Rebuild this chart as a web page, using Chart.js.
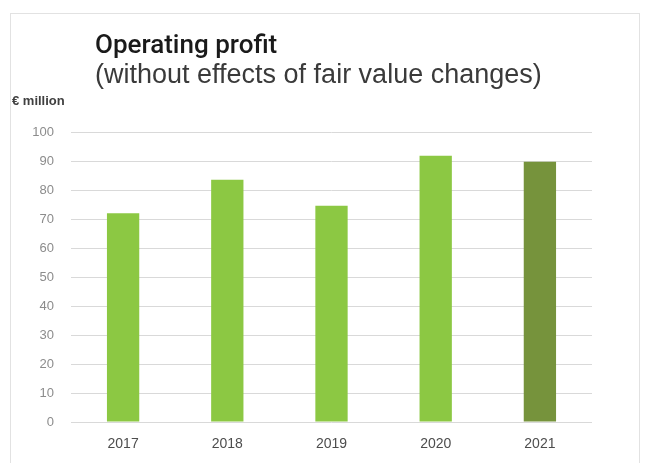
<!DOCTYPE html>
<html>
<head>
<meta charset="utf-8">
<script src="https://cdn.jsdelivr.net/npm/chart.js@4/dist/chart.umd.min.js"></script>
<style>
  html, body { margin: 0; padding: 0; background: #ffffff; }
  #wrap { position: relative; width: 646px; height: 463px; }
</style>
</head>
<body>
<div id="wrap"><canvas id="c"></canvas></div>
<script>
const years = ['2017', '2018', '2019', '2020', '2021'];
const operatingProfit = [72.0, 83.5, 74.6, 91.8, 89.7];
const barColors = ['#8cc843', '#8cc843', '#8cc843', '#8cc843', '#76933c'];
const yTicks = [0, 10, 20, 30, 40, 50, 60, 70, 80, 90, 100];
const titleText = 'Operating profit';
const subtitleText = '(without effects of fair value changes)';
const unitText = '€ million';

const decor = {
  id: 'decor',
  beforeDraw(chart) {
    const ctx = chart.ctx;
    ctx.save();
    ctx.fillStyle = '#ffffff';
    ctx.fillRect(0, 0, chart.width, chart.height);
    ctx.strokeStyle = '#e2e2e2';
    ctx.lineWidth = 1;
    ctx.strokeRect(10.5, 13.5, 629, 470);
    ctx.restore();
  },
  afterDraw(chart) {
    const ctx = chart.ctx;
    ctx.save();
    ctx.textAlign = 'left';
    ctx.textBaseline = 'alphabetic';
    ctx.fillStyle = '#1a1a1a';
    ctx.font = '500 26px Roboto, "Liberation Sans", Arial, sans-serif';
    ctx.fillText(titleText, 95, 53, 188);
    ctx.fillStyle = '#3a3a3a';
    ctx.font = '27px "Liberation Sans", Arial, sans-serif';
    ctx.fillText(subtitleText, 95, 83, 448);
    ctx.fillStyle = '#404040';
    ctx.font = 'bold 13px "Liberation Sans", Arial, sans-serif';
    ctx.fillText(unitText, 12, 105, 76);
    ctx.restore();
  }
};

new Chart(document.getElementById('c'), {
  type: 'bar',
  data: {
    labels: years,
    datasets: [{
      data: operatingProfit,
      backgroundColor: barColors,
      borderWidth: 0,
      barPercentage: 0.31,
      categoryPercentage: 1.0
    }]
  },
  options: {
    responsive: true,
    maintainAspectRatio: false,
    animation: false,
    layout: { padding: { left: 0, right: 54, top: 132, bottom: 0 } },
    plugins: {
      legend: { display: false },
      tooltip: { enabled: false },
      title: { display: false }
    },
    scales: {
      x: {
        grid: { display: false, drawTicks: false },
        border: { display: false },
        ticks: {
          color: '#4d4d4d',
          font: { family: '"Liberation Sans", Arial, sans-serif', size: 14 },
          padding: 14
        },
        afterFit(scale) { scale.height = 41; }
      },
      y: {
        min: 0,
        max: 100,
        afterBuildTicks(scale) { scale.ticks = yTicks.map(v => ({ value: v })); },
        grid: { color: '#d9d9d9', lineWidth: 1, drawTicks: false },
        border: { display: false },
        ticks: {
          color: '#8c8c8c',
          font: { family: '"Liberation Sans", Arial, sans-serif', size: 13 },
          padding: 17
        },
        afterFit(scale) { scale.width = 71; }
      }
    }
  },
  plugins: [decor]
});
</script>
</body>
</html>
